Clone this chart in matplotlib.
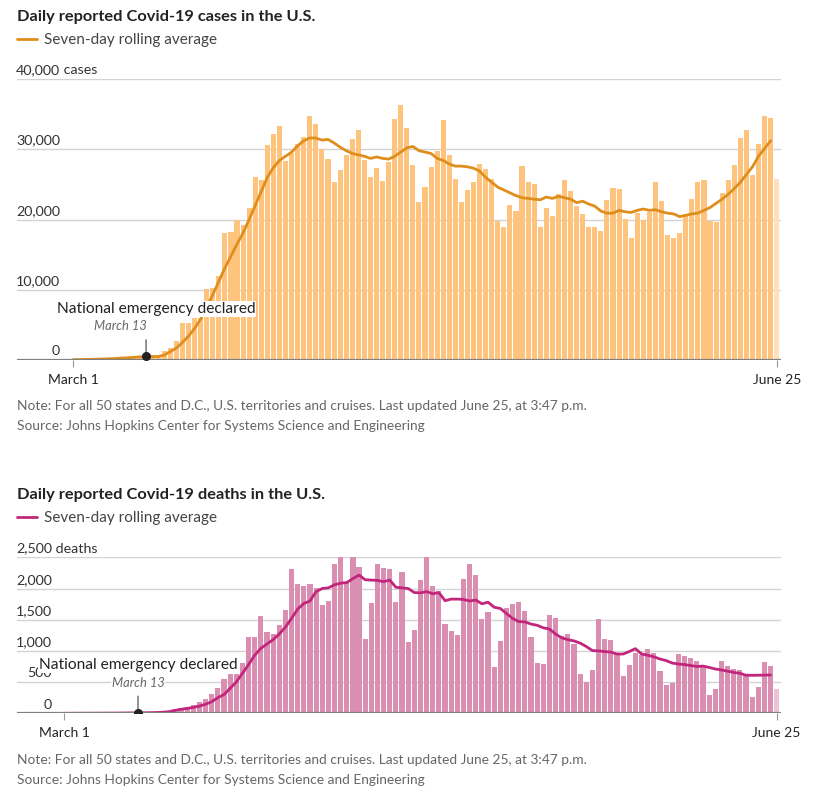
import matplotlib
matplotlib.use("Agg")
import matplotlib.pyplot as plt
import matplotlib.transforms as mtransforms
import numpy as np

# day index 0 = March 1, 116 = June 25
tick_days = [0, 116]
tick_labels = ["March 1", "June 25"]
emergency_day = 12

# daily reported cases (thousands)
cases_daily = [0.01, 0.01, 0.02, 0.03, 0.03, 0.07, 0.06, 0.11, 0.12, 0.19, 0.29, 0.31, 0.43, 0.55, 0.6,
               1.3, 1.7, 2.7, 5.2, 5.3, 6.0, 6.0, 10.1, 10.3, 12.0, 18.1, 18.2, 19.9, 19.2, 21.6,
               26.1, 25.6, 30.6, 32.1, 33.3, 28.3,
               29.5, 30.8, 31.7, 34.8, 33.6, 30.0, 28.6, 25.3, 27.1, 29.2, 31.4, 32.8, 28.4, 26.1,
               27.4, 25.5, 28.2, 34.3, 36.3, 33.0, 27.7, 22.5, 24.6, 27.5, 29.8, 34.2, 29.2, 25.7,
               22.5, 24.2, 25.3, 27.9, 27.2, 25.8, 19.8, 18.9, 22.0, 21.2, 27.6, 25.3, 25.1, 19.0,
               21.7, 20.5, 23.6, 25.6, 24.1, 21.9, 20.8, 19.0, 18.9, 18.3, 22.8, 24.5, 24.3, 20.1,
               17.3, 20.9, 19.9, 21.1, 25.3, 22.7, 17.8, 17.4, 18.1, 20.8, 22.9, 25.4, 25.6, 19.8,
               19.7, 23.8, 25.6, 27.8, 31.6, 32.8, 26.4, 30.7, 34.8, 34.5, 25.7]
# seven-day rolling average of cases (thousands)
cases_avg = [0.05, 0.06, 0.08, 0.1, 0.12, 0.15, 0.18, 0.22, 0.28, 0.32, 0.38, 0.45, 0.5, 0.5, 0.5,
             0.7, 1.2, 1.7, 2.5, 3.4, 4.5, 5.8, 7.5, 9.3, 11.2, 13.1, 14.8, 16.5, 18.1, 20.0,
             22.0, 24.0, 26.0, 27.4, 28.4, 29.0, 29.6, 30.5, 31.2, 31.6,
             31.6, 31.3, 31.4, 30.9, 30.3, 29.8, 29.4, 29.2, 29.0, 28.7, 28.9, 28.7, 28.6, 29.0,
             29.6, 30.2, 30.4, 29.8, 29.6, 29.4, 28.7, 28.4, 27.9, 27.6, 27.6, 27.5, 27.3, 26.9,
             26.0, 25.3, 24.6, 24.2, 23.8, 23.4, 23.1, 23.0, 22.9, 22.8,
             23.2, 23.0, 23.3, 23.1, 22.9, 22.4, 22.6, 22.2, 21.9, 21.2, 20.9, 20.9, 21.3, 21.1,
             21.0, 21.3, 21.5, 21.3, 21.4, 21.1, 20.9, 20.8, 20.4, 20.6, 20.8, 20.9, 21.3, 21.7,
             22.3, 22.9, 23.6, 24.4, 25.3, 26.4, 27.5, 29.0, 30.1, 31.2]

# daily reported deaths
deaths_daily = [1, 1, 0, 1, 2, 1, 2, 3, 4, 5, 6, 8, 10, 9, 10, 13, 20, 28,
                64, 91, 96, 134, 176, 230, 310, 406, 545, 630, 630, 807, 1218, 1218, 1560, 1298,
                1266, 1416, 1661, 2308, 2078,
                2046, 2073, 2014, 1736, 1806, 2393, 2521, 2083, 2591, 2345, 1186, 1768, 2399, 2334,
                2318, 1779, 2270, 1149, 1341, 2131, 2618, 2041, 1955, 1426, 1325, 1250, 2153, 2393,
                2217, 1512, 1629, 737, 1159, 1693, 1747, 1784, 1640, 1223, 812,
                791, 1571, 1522, 1239, 1277, 1111, 630, 502, 695, 1506, 1191, 1175, 951, 604, 769,
                972, 935, 1036, 967, 678, 454, 491, 946, 919, 887, 844, 748, 299, 390, 833, 759,
                711, 689, 604, 262, 422, 823, 753, 390]
deaths_avg = [0, 0, 1, 1, 1, 2, 2, 3, 3, 4, 5, 6, 7,
              8, 10, 13, 17, 25, 45, 65, 78, 95, 115, 145, 185, 250, 300, 400, 500, 640, 780, 930,
              1040, 1110, 1180, 1270, 1380, 1520, 1670,
              1760, 1800, 1950, 2000, 2010, 2060, 2085, 2095, 2160, 2215, 2140, 2135, 2130, 2110,
              2135, 2020, 2010, 2000, 1935, 1930, 1950, 1915, 1935, 1805, 1830, 1830, 1825, 1800,
              1815, 1755, 1780, 1700, 1680, 1600, 1520, 1470, 1465, 1430, 1410,
              1370, 1350, 1270, 1210, 1180, 1160, 1125, 1070, 1005, 1000, 990, 980, 950, 950, 990,
              1036, 951, 930, 905, 870, 845, 805, 790, 780, 765, 750, 757, 735, 710, 695, 675, 655,
              641, 610, 609, 610, 612, 614]

cases_ticks = [0, 10000, 20000, 30000, 40000]
cases_tick_labels = ["0", "10,000", "20,000", "30,000", "40,000"]
deaths_ticks = [0, 500, 1000, 1500, 2000, 2500]
deaths_tick_labels = ["0", "500", "1,000", "1,500", "2,000", "2,500"]

note = "Note: For all 50 states and D.C., U.S. territories and cruises. Last updated June 25, at 3:47 p.m."
source = "Source: Johns Hopkins Center for Systems Science and Engineering"

W, H = 814, 794
plt.rcParams["font.family"] = ["Lato", "DejaVu Sans"]
fig = plt.figure(figsize=(W / 100, H / 100), dpi=100)


def fx(px):
    return px / W


def fy(py):
    return 1 - py / H


def panel(top, bottom, x0, step, ymax, daily, avg, ticks, tick_labels_y, unit, label_right,
          bar_col, last_col, line_col, title, title_y, note_y, ann):
    ax = fig.add_axes([fx(17), fy(bottom), fx(781) - fx(17), fy(top) - fy(bottom)])
    days = np.arange(len(daily))
    colors = [bar_col] * (len(daily) - 1) + [last_col]
    ax.bar(days, daily, width=0.84, color=colors, zorder=2)
    line, = ax.plot(np.arange(len(avg)), avg, color=line_col, lw=2, zorder=3,
                    solid_capstyle="round")
    ax.set_xlim((17 - x0) / step, (781 - x0) / step)
    ax.set_ylim(0, ymax)
    for s in ax.spines.values():
        s.set_visible(False)
    ax.set_yticks(ticks)
    ax.set_yticklabels([])
    ax.tick_params(axis="y", length=0)
    ax.yaxis.grid(True, color="#d3d3d3", lw=1, zorder=0)
    ax.axhline(0, color="#808080", lw=1.6, zorder=4)
    ax.set_xticks(tick_days)
    ax.set_xticklabels(tick_labels, fontsize=10, color="#222")
    ax.tick_params(axis="x", length=5, color="#999", pad=5)

    # y labels sitting above the gridlines
    lab_tr = mtransforms.offset_copy(ax.get_yaxis_transform(), fig=fig, x=0, y=2, units="points")
    xr = (label_right - 17) / 764
    for v, t in zip(ticks, tick_labels_y):
        ax.text(xr, v, t, transform=lab_tr, ha="right", va="bottom", fontsize=10.3, color="#333")
    ax.text(xr, ticks[-1], " " + unit, transform=lab_tr, ha="left", va="bottom", fontsize=10.3,
            color="#333")

    # title and legend
    fig.text(fx(17), fy(title_y), title, fontsize=11.8, fontweight="bold", color="#222", va="center")
    fig.legend([line], ["Seven-day rolling average"], loc="center left",
               bbox_to_anchor=(fx(17), fy(title_y + 23)), frameon=False, fontsize=11,
               handlelength=1.3, handletextpad=0.45, borderpad=0, borderaxespad=0,
               labelcolor="#444")

    # national emergency annotation
    dot_val = avg[emergency_day]
    ax.plot([emergency_day], [dot_val], "o", color="#222", ms=5.5, zorder=6)
    ax.annotate("", xy=(emergency_day, dot_val), xytext=(0, 14), textcoords="offset points",
                arrowprops=dict(arrowstyle="-", color="#666", lw=1), zorder=5)
    tx, ty, mx, my = ann
    fig.text(fx(tx), fy(ty), "National emergency declared", fontsize=11.2, color="#222",
             ha="center", va="center", zorder=7,
             bbox=dict(facecolor="white", edgecolor="none", pad=0.8))
    fig.text(fx(mx), fy(my), "March 13", fontsize=9.3, style="italic", color="#666",
             ha="center", va="center", zorder=7,
             bbox=dict(facecolor="white", edgecolor="none", pad=0.5))

    fig.text(fx(17), fy(note_y), note, fontsize=9.9, color="#666", va="center")
    fig.text(fx(17), fy(note_y + 20), source, fontsize=9.9, color="#666", va="center")
    return ax


panel(79, 360, 73.3, 6.064, 40000, [v * 1000 for v in cases_daily], [v * 1000 for v in cases_avg],
      cases_ticks, cases_tick_labels, "cases", 60, "#fec47d", "#fee0bd", "#e08e1b",
      "Daily reported Covid-19 cases in the U.S.", 17, 406, (156, 309, 120, 326))

panel(557.3, 713.3, 64.3, 6.141, 2500, deaths_daily, deaths_avg,
      deaths_ticks, deaths_tick_labels, "deaths", 52, "#da8eb1", "#ecc3d6", "#c2257c",
      "Daily reported Covid-19 deaths in the U.S.", 495, 760, (138, 665, 138, 683))

fig.savefig("out.png", dpi=100)
